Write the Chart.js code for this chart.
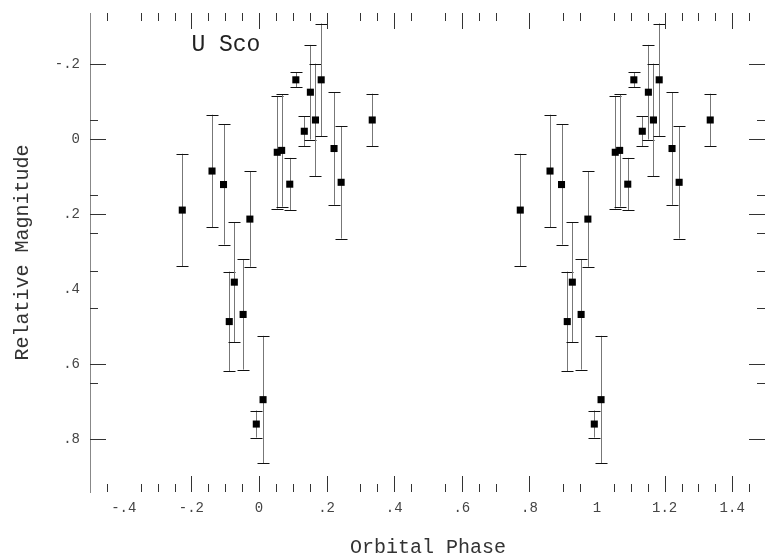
<!DOCTYPE html>
<html>
<head>
<meta charset="utf-8">
<title>U Sco</title>
<script src="https://cdn.jsdelivr.net/npm/chart.js@4/dist/chart.umd.min.js"></script>
<style>
    html, body { margin: 0; padding: 0; background: #fff; }
    #wrap { width: 771px; height: 556px; position: relative; }
</style>
</head>
<body>
<div id="wrap"><canvas id="lightCurve"></canvas></div>
<script>
// ==================== ДАННЫЕ ====================

// orbital phase of each measurement (first cycle)
const phase = [-0.227, -0.139, -0.105, -0.088, -0.073, -0.047, -0.027, -0.008, 0.012, 0.054,
               0.067, 0.091, 0.109, 0.134, 0.152, 0.167, 0.184, 0.222, 0.243, 0.335];
// relative magnitude (brighter = up)
const magnitude = [0.189, 0.085, 0.121, 0.486, 0.381, 0.467, 0.213, 0.759, 0.694, 0.035,
                   0.030, 0.120, -0.158, -0.021, -0.125, -0.051, -0.158, 0.025, 0.115, -0.051];
// symmetric error bars
const magError = [0.150, 0.150, 0.160, 0.133, 0.160, 0.147, 0.127, 0.036, 0.170, 0.150,
                  0.150, 0.070, 0.020, 0.040, 0.126, 0.150, 0.150, 0.150, 0.150, 0.070];
// phase-folded plot: every point is shown again one cycle later
const cycles = [0, 1];

const xMajorTicks = [-0.4, -0.2, 0, 0.2, 0.4, 0.6, 0.8, 1, 1.2, 1.4];
const yMajorTicks = [-0.2, 0, 0.2, 0.4, 0.6, 0.8];
// tick marks that are not visible in the original figure
const xMissingTicks = [-0.4, 0.25, 0.5, 0.75, 0.85, 1.0];
const yMissingTicks = [-0.25, -0.15, -0.1, 0.05, 0.1, 0.3, 0.4, 0.5, 0.55, 0.7, 0.75, 0.85];

const MONO = '"Liberation Mono", "DejaVu Sans Mono", monospace';

// ==================== УТИЛИТЫ ====================

function inList(v, list) {
    return list.some(t => Math.abs(t - v) < 1e-6);
}

function formatTick(v) {
    if (Math.abs(v) < 1e-9) return '0';
    const s = v.toFixed(1).replace(/\.0$/, '');
    return s.replace(/^(-?)0\./, '$1.');
}

function skipTick(scale, v, missing) {
    if (v <= scale.min + 1e-6 || v >= scale.max - 1e-6) return true;
    if (Math.abs(v / 0.05 - Math.round(v / 0.05)) > 1e-6) return true;
    return inList(v, missing);
}

// ==================== ПЛАГИНЫ ====================

// error bars drawn under the square markers
const errorBarPlugin = {
    id: 'errorBars',
    beforeDatasetsDraw(chart) {
        const { ctx, scales: { x, y } } = chart;
        ctx.save();
        ctx.lineWidth = 1;
        chart.data.datasets.forEach(ds => {
            ds.data.forEach(p => {
                const px = Math.round(x.getPixelForValue(p.x)) + 0.5;
                const top = y.getPixelForValue(p.y - p.err);
                const bot = y.getPixelForValue(p.y + p.err);
                ctx.strokeStyle = '#777';
                ctx.beginPath();
                ctx.moveTo(px, top);
                ctx.lineTo(px, bot);
                ctx.stroke();
                ctx.strokeStyle = '#111';
                ctx.beginPath();
                [top, bot].forEach(py => {
                    const yy = Math.round(py) + 0.5;
                    ctx.moveTo(px - 6, yy);
                    ctx.lineTo(px + 6, yy);
                });
                ctx.stroke();
            });
        });
        ctx.restore();
    }
};

// inward tick marks on all four sides + the star name
const frameTicksPlugin = {
    id: 'frameTicks',
    afterDraw(chart) {
        const { ctx, chartArea: a, scales: { x, y } } = chart;
        ctx.save();
        ctx.strokeStyle = '#333';
        ctx.lineWidth = 1;
        ctx.beginPath();
        x.ticks.forEach(t => {
            const v = t.value;
            if (skipTick(x, v, xMissingTicks)) return;
            const len = inList(v, xMajorTicks) ? 16 : 8;
            const px = Math.round(x.getPixelForValue(v)) + 0.5;
            ctx.moveTo(px, a.top);
            ctx.lineTo(px, a.top + len);
            ctx.moveTo(px, a.bottom);
            ctx.lineTo(px, a.bottom - len);
        });
        y.ticks.forEach(t => {
            const v = t.value;
            if (skipTick(y, v, yMissingTicks)) return;
            const len = inList(v, yMajorTicks) ? 16 : 8;
            const py = Math.round(y.getPixelForValue(v)) + 0.5;
            ctx.moveTo(a.left, py);
            ctx.lineTo(a.left + len, py);
            ctx.moveTo(a.right - 1, py);
            ctx.lineTo(a.right - 1 - len, py);
        });
        ctx.stroke();

        // star name, anchored in data coordinates
        ctx.fillStyle = '#222';
        ctx.font = '23px ' + MONO;
        ctx.textAlign = 'left';
        ctx.textBaseline = 'middle';
        ctx.fillText('U Sco', x.getPixelForValue(-0.2), y.getPixelForValue(-0.25));
        ctx.restore();
    }
};

// ==================== ГРАФИК ====================

function buildPoints(offset) {
    return phase.map((p, i) => ({ x: p + offset, y: magnitude[i], err: magError[i] }));
}

function createLightCurve(canvasId) {
    const ctx = document.getElementById(canvasId);
    if (!ctx) return null;

    return new Chart(ctx, {
        type: 'scatter',
        data: {
            datasets: cycles.map(c => ({
                data: buildPoints(c),
                backgroundColor: '#000',
                borderColor: '#000',
                borderWidth: 0,
                pointStyle: 'rect',
                pointRadius: 5,
                pointHoverRadius: 5
            }))
        },
        options: {
            responsive: true,
            maintainAspectRatio: false,
            animation: false,
            events: [],
            layout: { padding: { top: 13, right: 0, bottom: 0, left: 0 } },
            plugins: {
                legend: { display: false },
                tooltip: { enabled: false }
            },
            scales: {
                x: {
                    type: 'linear',
                    min: -0.5,
                    max: 1.5,
                    afterFit: s => {
                        s.height = 64;
                        s.paddingLeft = 0;
                        s.paddingRight = 0;
                    },
                    grid: { display: false, drawTicks: false },
                    border: { display: false },
                    ticks: {
                        stepSize: 0.05,
                        autoSkip: false,
                        maxRotation: 0,
                        minRotation: 0,
                        padding: 8,
                        color: '#444',
                        font: { family: MONO, size: 14 },
                        callback: v => inList(v, xMajorTicks) ? formatTick(v) : ''
                    },
                    title: {
                        display: true,
                        text: 'Orbital Phase',
                        color: '#333',
                        font: { family: MONO, size: 20, lineHeight: 0.8 },
                        padding: { top: 0, bottom: 0 }
                    }
                },
                y: {
                    type: 'linear',
                    reverse: true,
                    min: -0.336,
                    max: 0.94,
                    afterFit: s => {
                        s.width = 90;
                        s.paddingTop = 0;
                        s.paddingBottom = 0;
                    },
                    grid: { display: false, drawTicks: false },
                    border: { display: true, color: '#888', width: 1 },
                    ticks: {
                        stepSize: 0.05,
                        autoSkip: false,
                        padding: 10,
                        color: '#444',
                        font: { family: MONO, size: 14 },
                        callback: v => inList(v, yMajorTicks) ? formatTick(v) : ''
                    },
                    title: {
                        display: true,
                        text: 'Relative Magnitude',
                        color: '#333',
                        font: { family: MONO, size: 20, lineHeight: 1.2 },
                        padding: { top: 11, bottom: 0 }
                    }
                }
            }
        },
        plugins: [errorBarPlugin, frameTicksPlugin]
    });
}

document.addEventListener('DOMContentLoaded', function() {
    createLightCurve('lightCurve');
});
</script>
</body>
</html>
